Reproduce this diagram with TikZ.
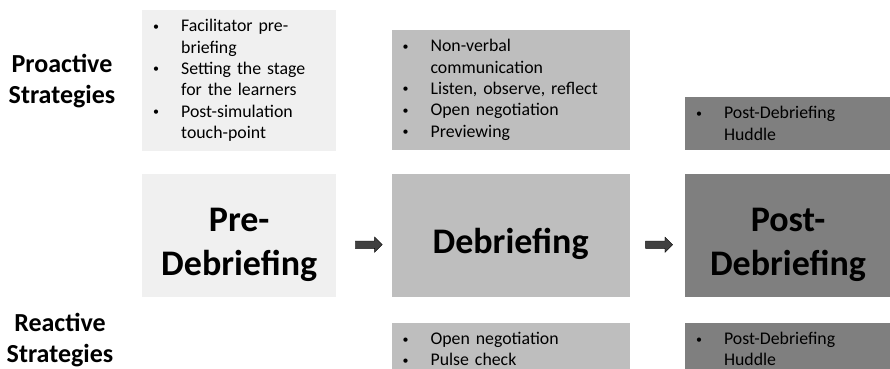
\documentclass[tikz,border=0pt]{standalone}
\usepackage{fontspec}
\setmainfont{Carlito}
\usetikzlibrary{positioning,shapes.arrows}

\definecolor{prefill}{HTML}{F0F0F0}
\definecolor{debfill}{HTML}{BEBEBE}
\definecolor{postfill}{HTML}{7F7F7F}
\definecolor{arrowfill}{HTML}{404040}

\newcommand{\bpt}{\makebox[28pt][l]{\raisebox{1.5pt}{\fontsize{12}{12}\selectfont\textbullet}}}
\newcommand{\cnt}{\hspace*{28pt}}
% pushes the big stage titles a little lower in their boxes
\newcommand{\lift}{\rule{0pt}{41pt}}

\begin{document}
\begin{tikzpicture}
\tikzstyle{stage}=[rectangle, minimum height=123pt, align=center, inner sep=0pt, font=\fontsize{36}{44}\selectfont\bfseries, node distance=55pt]
\tikzstyle{list}=[rectangle, inner xsep=11pt, inner ysep=0pt, align=left, font=\fontsize{17.8}{21.3}\selectfont, node distance=24pt]
\tikzstyle{side}=[align=center, font=\fontsize{26}{31}\selectfont\bfseries]
\tikzstyle{connect}=[single arrow, draw=black, thin, fill=arrowfill, minimum height=27pt, single arrow head extend=4pt, inner sep=3.5pt]
  \useasboundingbox (0,0) rectangle (890pt,-368pt);
  \clip (0,0) rectangle (890pt,-368pt);
  % pre-debriefing
  \node[stage, fill=prefill, minimum width=194pt, anchor=north west] (pre) at (142pt,-174pt) {\lift Pre-\\Debriefing};
  % debriefing
  \node[stage, fill=debfill, minimum width=238pt] (deb) [right=of pre] {\lift Debriefing};
  % post-debriefing
  \node[stage, fill=postfill, minimum width=206pt] (post) [right=of deb] {\lift Post-\\Debriefing};
  % proactive
  \node[list, fill=prefill, text width=172pt, minimum height=141pt] (prepro) [above=23pt of pre]
    {\bpt Facilitator pre-\\ \cnt briefing\\ \bpt Setting the stage\\ \cnt for the learners\\ \bpt Post-simulation\\ \cnt touch-point};
  \node[list, fill=debfill, text width=216pt, minimum height=120pt] (debpro) [above=of deb]
    {\bpt Non-verbal\\ \cnt communication\\ \bpt Listen, observe, reflect\\ \bpt Open negotiation\\ \bpt Previewing};
  \node[list, fill=postfill, text width=184pt, minimum height=53pt] (postpro) [above=of post]
    {\bpt Post-Debriefing\\ \cnt Huddle};
  % reactive
  \node[list, fill=debfill, text width=216pt, minimum height=53pt] (debre) [below=25pt of deb]
    {\bpt Open negotiation\\ \bpt Pulse check};
  \node[list, fill=postfill, text width=184pt, minimum height=53pt] (postre) [below=25pt of post]
    {\bpt Post-Debriefing\\ \cnt Huddle};
  % row labels
  \node[side] (proact) at (62pt,-81pt) {Proactive\\Strategies};
  \node[side] (react) at (60pt,-340pt) {Reactive\\Strategies};
  % arrows
  \path (pre) -- (deb) node[connect, midway, xshift=3pt, yshift=-9pt] (arr1) {};
  \path (deb) -- (post) node[connect, midway, yshift=-9pt] (arr2) {};
\end{tikzpicture}
\end{document}
